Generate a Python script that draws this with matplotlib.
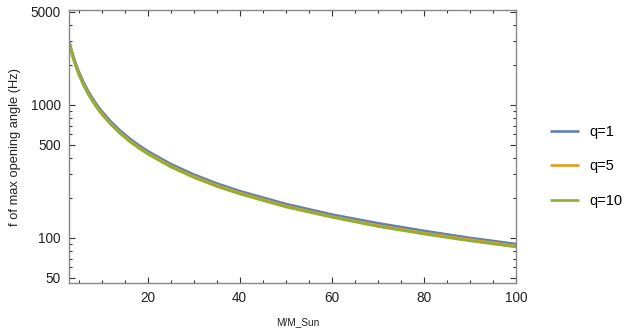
import numpy as np
import matplotlib
matplotlib.use("Agg")
import matplotlib.pyplot as plt
from matplotlib.ticker import FixedLocator, NullFormatter

plt.rcParams['font.family'] = ['Liberation Sans', 'DejaVu Sans']

## values
mass = [3, 3.5, 4, 4.5, 5, 6, 7, 8, 9, 10, 12, 14, 16, 18, 20,
        25, 30, 35, 40, 50, 60, 70, 80, 90, 100]
f_q1 = [3000, 2571, 2250, 2000, 1800, 1500, 1286, 1125, 1000, 900, 750, 643, 563, 500, 450,
        360, 300, 257, 225, 180, 150, 129, 113, 100, 90]
f_q5 = [2900, 2486, 2175, 1933, 1740, 1450, 1243, 1088, 967, 870, 725, 621, 544, 483, 435,
        348, 290, 249, 218, 174, 145, 124, 109, 97, 87]
f_q10 = [2850, 2443, 2138, 1900, 1710, 1425, 1221, 1069, 950, 855, 713, 611, 534, 475, 428,
         342, 285, 244, 214, 171, 143, 122, 107, 95, 85.5]
labels = ['q=1', 'q=5', 'q=10']
colors = ['#5E81B5', '#E19C24', '#8FB032']

fig = plt.figure(figsize=(6.32, 3.31), dpi=100)
ax = fig.add_axes([0.1097, 0.145, 0.7068, 0.8248])

for ys, lab, c in zip([f_q1, f_q5, f_q10], labels, colors):
    ax.plot(mass, ys, color=c, lw=1.9, label=lab, solid_capstyle='butt')

ax.set_yscale('log')
ax.set_xlim(3, 100)
ax.set_ylim(45.8, 5175)

# ticks, mathematica frame style
ax.yaxis.set_major_locator(FixedLocator([50, 100, 500, 1000, 5000]))
ax.set_yticklabels(['50', '100', '500', '1000', '5000'])
ax.yaxis.set_minor_locator(FixedLocator([60, 70, 80, 90, 200, 300, 400, 600, 700, 800, 900,
                                         2000, 3000, 4000]))
ax.yaxis.set_minor_formatter(NullFormatter())
ax.xaxis.set_major_locator(FixedLocator([20, 40, 60, 80, 100]))
ax.xaxis.set_minor_locator(FixedLocator([5, 10, 15, 25, 30, 35, 45, 50, 55, 65, 70, 75, 85, 90, 95]))

ax.tick_params(which='both', direction='in', top=True, right=True, labelsize=9.8,
               color='#333333', labelcolor='#222222', width=0.8)
ax.tick_params(which='major', length=4, pad=6)
ax.tick_params(which='minor', length=2)
for s in ax.spines.values():
    s.set_color('#888888')
    s.set_linewidth(1.0)

ax.set_xlabel('M/M_Sun', fontsize=7.2, color='#222222', labelpad=10)
ax.xaxis.set_label_coords(0.511, -0.125)
ax.set_ylabel('f of max opening angle (Hz)', fontsize=9.3, color='#222222', labelpad=7)

ax.legend(loc='center left', bbox_to_anchor=(0.870, 0.497), bbox_transform=fig.transFigure,
          frameon=False, fontsize=10.5, handlelength=2.0, handletextpad=0.7,
          labelspacing=1.4, borderpad=0, borderaxespad=0)

fig.savefig('out.png', dpi=100)
